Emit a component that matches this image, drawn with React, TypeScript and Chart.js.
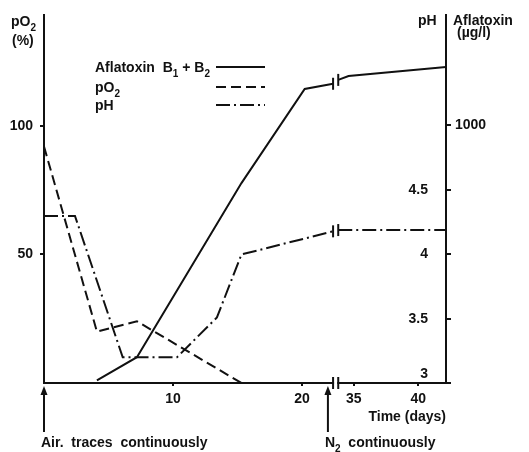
import React, { useEffect, useRef } from "react";
import { Chart, registerables } from "chart.js";

Chart.register(...registerables);

// ---- data (days are real days; the axis is broken between ~22 and ~34 days) ----
const BREAK_FROM_DAY = 22.4;
const BREAK_TO_DAY = 33.8;
const BREAK_SHIFT = 11;
const X_MAX_DAY = 42.15;
const xTickDays = [10, 20, 35, 40];

const aflatoxinDays = [4.1, 7.2, 15.3, 20.2, 22.4, 33.8, 34.6, 42.15];
const aflatoxinValues = [10, 100, 775, 1140, 1160, 1175, 1190, 1225];

const pO2Days = [0, 4.1, 7.2, 15.3];
const pO2Values = [92, 20, 24, 0];

const pHDays = [0, 2.4, 6.1, 10.3, 13.4, 15.3, 22.4, 33.8, 42.15];
const pHValues = [4.3, 4.3, 3.2, 3.2, 3.51, 4.0, 4.18, 4.19, 4.19];

const pO2Ticks = [50, 100];
const pHTicks = [3, 3.5, 4, 4.5];
const aflatoxinTicks = [1000];

const AIR_DAY = 0;
const N2_DAY = 22;

const FAMILY = "'Liberation Sans', Arial, sans-serif";
const INK = "#111111";
const FS = 14;

function axisDay(day: number) {
  return day > BREAK_FROM_DAY + 1e-9 ? day - BREAK_SHIFT : day;
}

function buildSeries(days: number[], values: number[]) {
  const pts: { x: number; y: number | null }[] = [];
  days.forEach((d, i) => {
    if (i > 0 && days[i - 1] <= BREAK_FROM_DAY && d >= BREAK_TO_DAY) {
      pts.push({ x: (axisDay(days[i - 1]) + axisDay(d)) / 2, y: null });
    }
    pts.push({ x: axisDay(d), y: values[i] });
  });
  return pts;
}

type Run = [string, boolean];

function drawRuns(ctx: CanvasRenderingContext2D, x: number, y: number, runs: Run[], size = FS) {
  let cx = x;
  ctx.textBaseline = "alphabetic";
  ctx.textAlign = "left";
  for (const [t, sub] of runs) {
    ctx.font = `bold ${sub ? size - 4 : size}px ${FAMILY}`;
    ctx.fillText(t, cx, sub ? y + 5 : y);
    cx += ctx.measureText(t).width;
  }
  return cx;
}

const decorations = {
  id: "decorations",
  afterDraw(chart: any) {
    const { ctx, chartArea, scales } = chart;
    const xs = scales.x;
    ctx.save();
    ctx.strokeStyle = INK;
    ctx.lineWidth = 2;
    ctx.setLineDash([]);
    const bar = (x: number, y: number, h = 6) => {
      ctx.beginPath();
      ctx.moveTo(x, y - h);
      ctx.lineTo(x, y + h);
      ctx.stroke();
    };

    // axis break
    const b1 = xs.getPixelForValue(axisDay(BREAK_FROM_DAY));
    const b2 = xs.getPixelForValue(axisDay(BREAK_TO_DAY));
    const yb = chartArea.bottom;
    ctx.fillStyle = "#ffffff";
    ctx.fillRect(b1 + 1, yb - 3, b2 - b1 - 2, 6);
    bar(b1, yb);
    bar(b2, yb);

    // dataset breaks
    chart.data.datasets.forEach((ds: any, di: number) => {
      const meta = chart.getDatasetMeta(di);
      ds.data.forEach((p: any, i: number) => {
        if (p.y === null) {
          const a = meta.data[i - 1];
          const c = meta.data[i + 1];
          if (a) bar(a.x, a.y);
          if (c) bar(c.x, c.y);
        }
      });
    });

    ctx.fillStyle = INK;
    // axis headers
    drawRuns(ctx, 11, 26, [["p", false], ["O", false], ["2", true]]);
    drawRuns(ctx, 12, 45, [["(%)", false]]);
    drawRuns(ctx, 418, 25, [["pH", false]]);
    drawRuns(ctx, 453, 25, [["Aflatoxin", false]]);
    drawRuns(ctx, 457, 37, [["(\u00b5g/l)", false]]);

    // legend
    const rows: { runs: Run[]; y: number; ds: number }[] = [
      { runs: [["Aflatoxin  B", false], ["1", true], [" + B", false], ["2", true]], y: 67, ds: 0 },
      { runs: [["pO", false], ["2", true]], y: 87, ds: 1 },
      { runs: [["pH", false]], y: 105, ds: 2 },
    ];
    rows.forEach((r) => {
      drawRuns(ctx, 95, r.y + 5, r.runs);
      const ds = chart.data.datasets[r.ds];
      ctx.setLineDash(ds.borderDash || []);
      ctx.beginPath();
      ctx.moveTo(216, r.y);
      ctx.lineTo(265, r.y);
      ctx.stroke();
    });
    ctx.setLineDash([]);

    // arrows and notes
    const arrow = (x: number) => {
      ctx.beginPath();
      ctx.moveTo(x, 432);
      ctx.lineTo(x, 392);
      ctx.stroke();
      ctx.beginPath();
      ctx.moveTo(x, yb + 3);
      ctx.lineTo(x - 3.5, yb + 12);
      ctx.lineTo(x + 3.5, yb + 12);
      ctx.closePath();
      ctx.fill();
    };
    const ax = xs.getPixelForValue(axisDay(AIR_DAY));
    const nx = xs.getPixelForValue(axisDay(N2_DAY));
    arrow(ax);
    arrow(nx);
    drawRuns(ctx, ax - 3, 447, [["Air.  traces  continuously", false]]);
    drawRuns(ctx, nx - 3, 447, [["N", false], ["2", true], ["  continuously", false]]);

    ctx.restore();
  },
};

export default function App() {
  const ref = useRef<HTMLCanvasElement | null>(null);

  useEffect(() => {
    if (!ref.current) return;
    const font = { family: FAMILY, size: FS, weight: "bold" as const };
    const chart = new Chart(ref.current, {
      type: "line",
      data: {
        datasets: [
          {
            label: "Aflatoxin B1 + B2",
            data: buildSeries(aflatoxinDays, aflatoxinValues),
            yAxisID: "yAfla",
            borderColor: INK,
            borderWidth: 2,
            borderDash: [],
            pointRadius: 0,
            spanGaps: false,
            tension: 0,
            fill: false,
          },
          {
            label: "pO2",
            data: buildSeries(pO2Days, pO2Values),
            yAxisID: "yO2",
            borderColor: INK,
            borderWidth: 2,
            borderDash: [10, 5],
            pointRadius: 0,
            spanGaps: false,
            tension: 0,
            fill: false,
          },
          {
            label: "pH",
            data: buildSeries(pHDays, pHValues),
            yAxisID: "yPH",
            borderColor: INK,
            borderWidth: 2,
            borderDash: [14, 4, 2, 4],
            pointRadius: 0,
            spanGaps: false,
            tension: 0,
            fill: false,
          },
        ],
      } as any,
      options: {
        responsive: false,
        animation: false,
        devicePixelRatio: 1,
        parsing: false as any,
        layout: { padding: { top: 14, left: 0, right: 0, bottom: 0 } },
        plugins: { legend: { display: false }, tooltip: { enabled: false } },
        scales: {
          x: {
            type: "linear",
            min: 0,
            max: axisDay(X_MAX_DAY),
            afterBuildTicks: (s: any) => {
              s.ticks = xTickDays.map((d) => ({ value: axisDay(d) }));
            },
            afterFit: (s: any) => {
              s.height = 69;
            },
            ticks: {
              callback: (_v: any, i: number) => String(xTickDays[i]),
              font,
              color: INK,
              padding: 5,
              maxRotation: 0,
              autoSkip: false,
            },
            grid: { drawOnChartArea: false, drawTicks: true, tickLength: 3, color: INK, lineWidth: 2 },
            border: { display: true, color: INK, width: 2 },
            title: {
              display: true,
              text: "Time (days)",
              align: "end",
              font,
              color: INK,
              padding: { top: 0, bottom: 26.6 },
            },
          },
          yO2: {
            type: "linear",
            position: "left",
            min: 0,
            max: 143,
            afterBuildTicks: (s: any) => {
              s.ticks = pO2Ticks.map((v) => ({ value: v }));
            },
            afterFit: (s: any) => {
              s.width = 44;
            },
            ticks: { font, color: INK, padding: 7, callback: (v: any) => String(v) },
            grid: { drawOnChartArea: false, tickLength: 4, color: INK, lineWidth: 2 },
            border: { display: true, color: INK, width: 2 },
          },
          yPH: {
            type: "linear",
            position: "right",
            weight: 0,
            min: 3,
            max: 5.86,
            afterBuildTicks: (s: any) => {
              s.ticks = pHTicks.map((v) => ({ value: v }));
            },
            afterFit: (s: any) => {
              s.width = 0;
            },
            ticks: {
              mirror: true,
              padding: -18,
              font,
              color: INK,
              callback: (v: any) => (v === 3 ? ["3", ""] : String(v)),
            },
            grid: { drawOnChartArea: false, tickLength: 5, color: INK, lineWidth: 2 },
            border: { display: true, color: INK, width: 2 },
          },
          yAfla: {
            type: "linear",
            position: "right",
            weight: 1,
            min: 0,
            max: 1425,
            afterBuildTicks: (s: any) => {
              s.ticks = aflatoxinTicks.map((v) => ({ value: v }));
            },
            afterFit: (s: any) => {
              s.width = 83;
            },
            ticks: { font, color: INK, padding: 4, callback: (v: any) => String(v) },
            grid: { drawOnChartArea: false, tickLength: 5, color: INK, lineWidth: 2 },
            border: { display: false },
          },
        } as any,
      },
      plugins: [decorations],
    });
    return () => chart.destroy();
  }, []);

  return (
    <div style={{ position: "fixed", left: 0, top: 0, width: 529, height: 452, background: "#fff" }}>
      <canvas ref={ref} width={529} height={452} style={{ display: "block" }} />
    </div>
  );
}
